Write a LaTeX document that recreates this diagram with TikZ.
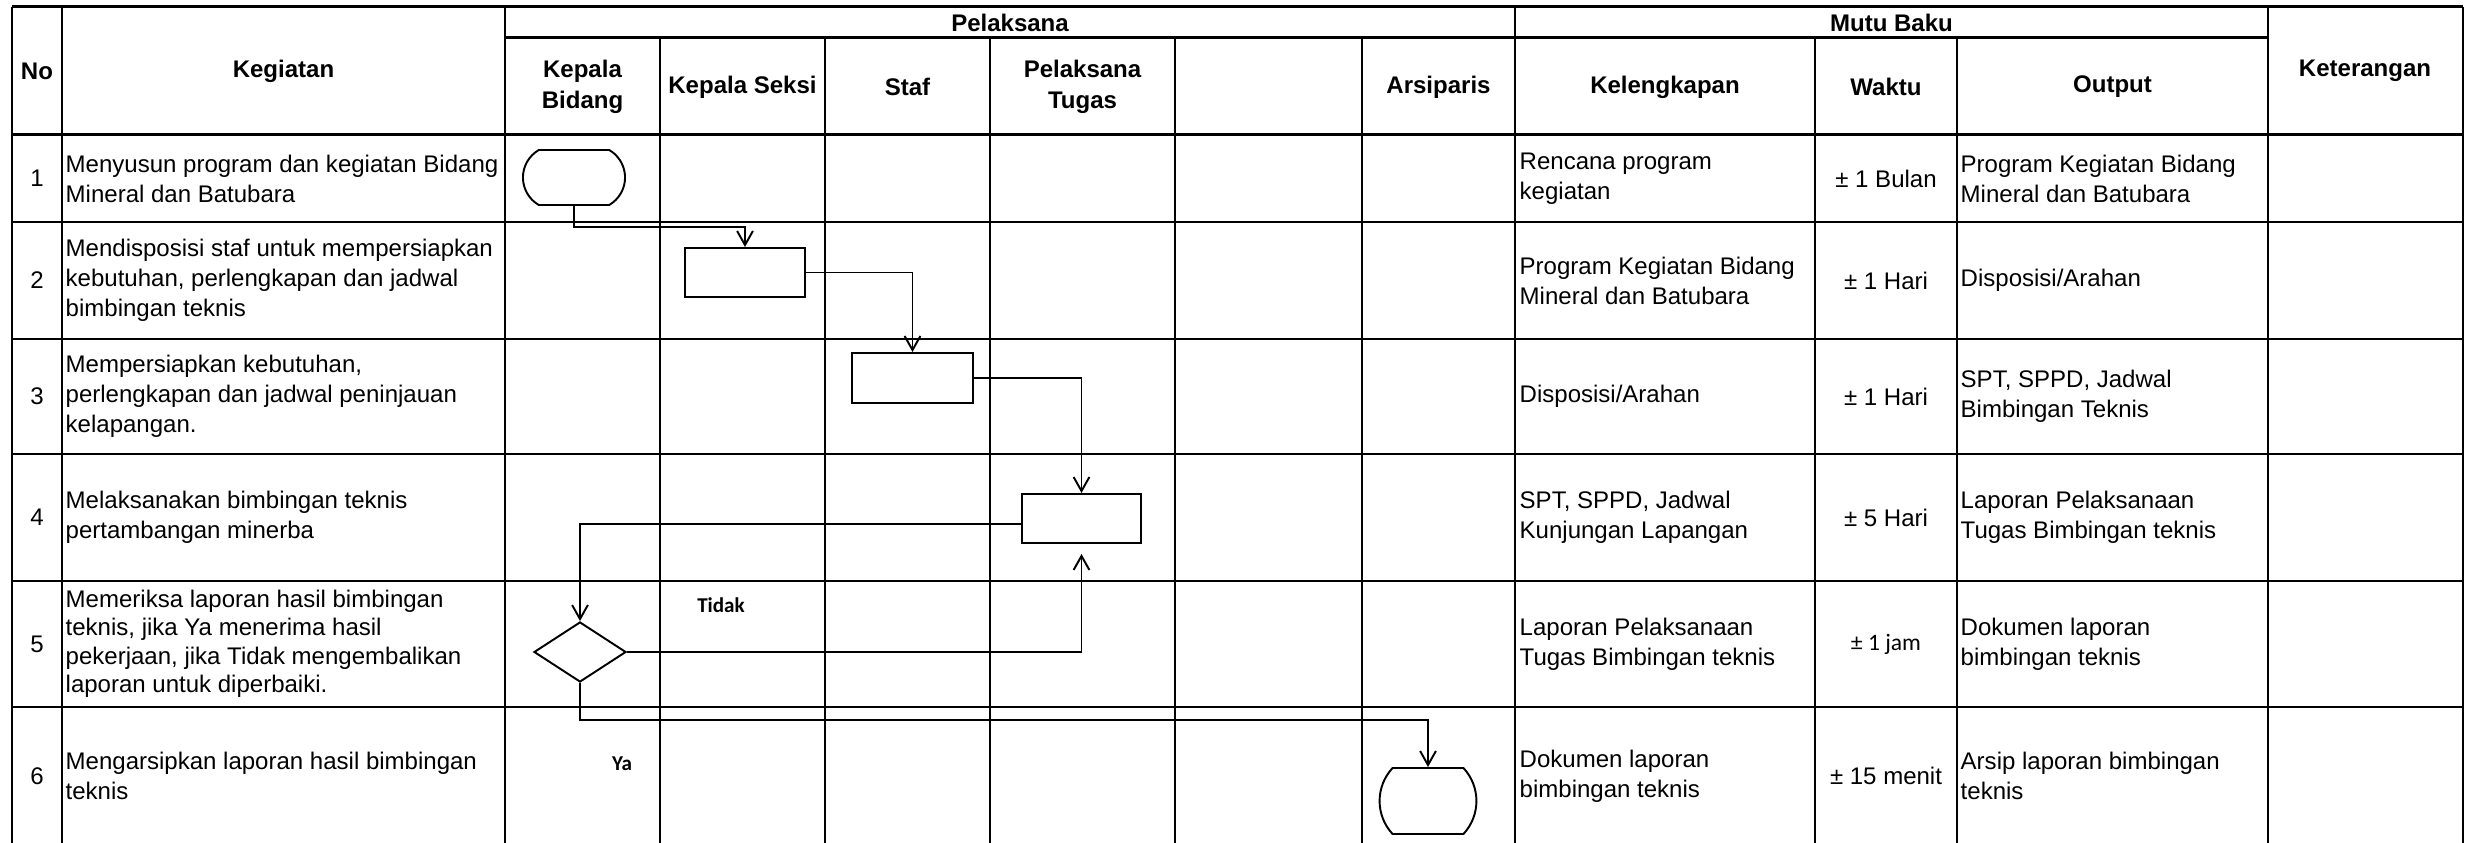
\documentclass[tikz,border=0pt]{standalone}
\usepackage{fontspec}
\setmainfont{Liberation Sans}
\newfontfamily\calib{Carlito}
\usetikzlibrary{shapes.misc,shapes.geometric,arrows.meta,calc}
\begin{document}
\begin{tikzpicture}[x=0.01cm,y=-0.01cm,
  hline/.style={line width=0.85pt},
  vline/.style={line width=0.6pt},
  txt/.style={font=\fontsize{6.83}{8.55}\selectfont, inner sep=0pt, align=left, anchor=west},
  ctxt/.style={font=\fontsize{6.83}{8.55}\selectfont, inner sep=0pt, align=center},
  hdr/.style={font=\fontsize{6.83}{8.8}\selectfont\bfseries, inner sep=0pt, align=center},
  shp/.style={draw, line width=0.55pt, inner sep=0pt},
  term/.style={shp, rounded rectangle, rounded rectangle arc length=#1},
  box/.style={shp, rectangle},
  dec/.style={shp, diamond},
  arr/.style={line width=0.55pt, -{Straight Barb[length=4pt,width=4.5pt]}},
  lbl/.style={font=\calib\fontsize{6}{7}\selectfont\bfseries, inner sep=0pt},
]
\fill[white] (0,0) rectangle (2475,843);
\useasboundingbox (0,0) rectangle (2475,843);

% table grid
\draw[hline] (12,7) -- (2463,7);
\foreach \y in {135,222,339,454,581,707} \draw[hline] (12,\y) -- (2463,\y);
\draw[hline] (505,38) -- (2268,38);
\foreach \x in {12,62,505,1515,2268,2463} \draw[vline] (\x,7) -- (\x,843);
\foreach \x in {660,825,990,1175,1362,1815,1957} \draw[vline] (\x,38) -- (\x,843);

% headers
\node[hdr] (hNo) at (37,71) {No};
\node[hdr] (hKeg) at (283.5,71) {Kegiatan};
\node[hdr] (hPel) at (1010,22.5) {Pelaksana};
\node[hdr] (hMutu) at (1891.5,22.5) {Mutu Baku};
\node[hdr] (hKet) at (2365,71) {Keterangan};
\node[hdr] (hKB) at (582.5,87) {Kepala\\Bidang};
\node[hdr] (hKS) at (742.5,87) {Kepala Seksi};
\node[hdr] (hStaf) at (907.5,87) {Staf};
\node[hdr] (hPT) at (1082.5,87) {Pelaksana\\Tugas};
\node[hdr] (hArs) at (1438.5,87) {Arsiparis};
\node[hdr] (hKel) at (1665,87) {Kelengkapan};
\node[hdr] (hWak) at (1886,87) {Waktu};
\node[hdr] (hOut) at (2112.5,87) {Output};

% row 1
\node[ctxt] (n1) at (37,178.5) {1};
\node[txt] (k1) at (65,178.5) {Menyusun program dan kegiatan Bidang\\Mineral dan Batubara};
\node[txt] (l1) at (1519,178.5) {Rencana program\\kegiatan};
\node[ctxt] (w1) at (1886,178.5) {± 1 Bulan};
\node[txt] (o1) at (1960,178.5) {Program Kegiatan Bidang\\Mineral dan Batubara};
% row 2
\node[ctxt] (n2) at (37,280.5) {2};
\node[txt] (k2) at (65,280.5) {Mendisposisi staf untuk mempersiapkan\\kebutuhan, perlengkapan dan jadwal\\bimbingan teknis};
\node[txt] (l2) at (1519,280.5) {Program Kegiatan Bidang\\Mineral dan Batubara};
\node[ctxt] (w2) at (1886,280.5) {± 1 Hari};
\node[txt] (o2) at (1960,280.5) {Disposisi/Arahan};
% row 3
\node[ctxt] (n3) at (37,396.5) {3};
\node[txt] (k3) at (65,396.5) {Mempersiapkan kebutuhan,\\perlengkapan dan jadwal peninjauan\\kelapangan.};
\node[txt] (l3) at (1519,396.5) {Disposisi/Arahan};
\node[ctxt] (w3) at (1886,396.5) {± 1 Hari};
\node[txt] (o3) at (1960,396.5) {SPT, SPPD, Jadwal\\Bimbingan Teknis};
% row 4
\node[ctxt] (n4) at (37,517.5) {4};
\node[txt] (k4) at (65,517.5) {Melaksanakan bimbingan teknis\\pertambangan minerba};
\node[txt] (l4) at (1519,517.5) {SPT, SPPD, Jadwal\\Kunjungan Lapangan};
\node[ctxt] (w4) at (1886,517.5) {± 5 Hari};
\node[txt] (o4) at (1960,517.5) {Laporan Pelaksanaan\\Tugas Bimbingan teknis};
% row 5
\node[ctxt] (n5) at (37,644) {5};
\node[txt, font=\fontsize{6.83}{8.1}\selectfont] (k5) at (65,644) {Memeriksa laporan hasil bimbingan\\teknis, jika Ya menerima hasil\\pekerjaan, jika Tidak mengembalikan\\laporan untuk diperbaiki.};
\node[txt] (l5) at (1519,644) {Laporan Pelaksanaan\\Tugas Bimbingan teknis};
\node[ctxt, font=\calib\fontsize{6.7}{8}\selectfont] (w5) at (1886,644) {± 1 jam};
\node[txt] (o5) at (1960,644) {Dokumen laporan\\bimbingan teknis};
% row 6
\node[ctxt] (n6) at (37,776) {6};
\node[txt] (k6) at (65,776) {Mengarsipkan laporan hasil bimbingan\\teknis};
\node[txt] (l6) at (1519,776) {Dokumen laporan\\bimbingan teknis};
\node[ctxt] (w6) at (1886,776) {± 15 menit};
\node[txt] (o6) at (1960,776) {Arsip laporan bimbingan\\teknis};

% flow shapes
\node[term=120, minimum width=1.02cm, minimum height=0.55cm] (t1) at (574,177.5) {};
\node[box, minimum width=1.20cm, minimum height=0.49cm] (r2) at (745,272.5) {};
\node[box, minimum width=1.21cm, minimum height=0.50cm] (r3) at (912.5,378) {};
\node[box, minimum width=1.19cm, minimum height=0.49cm] (r4) at (1081.5,518.5) {};
\node[dec, minimum width=0.92cm, minimum height=0.60cm] (d5) at (580,652) {};
\node[term=86, minimum width=0.89cm, minimum height=0.66cm] (t6) at (1428,801) {};

% connectors
\draw[arr] (t1.south) -- ++(0,21) -| (r2.north);
\draw[arr] (r2.east) -| (r3.north);
\draw[arr] (r3.east) -| (r4.north);
\draw[arr] ($(r4.west)+(0,5.5)$) -| (d5.north);
\draw[arr] (d5.east) -| ($(r4.south)+(0,10)$);
\draw[arr] (d5.south) -- ++(0,37) -| (t6.north);

% labels
\node[lbl] (lTidak) at (721,605) {Tidak};
\node[lbl] (lYa) at (622,764) {Ya};
\end{tikzpicture}
\end{document}
